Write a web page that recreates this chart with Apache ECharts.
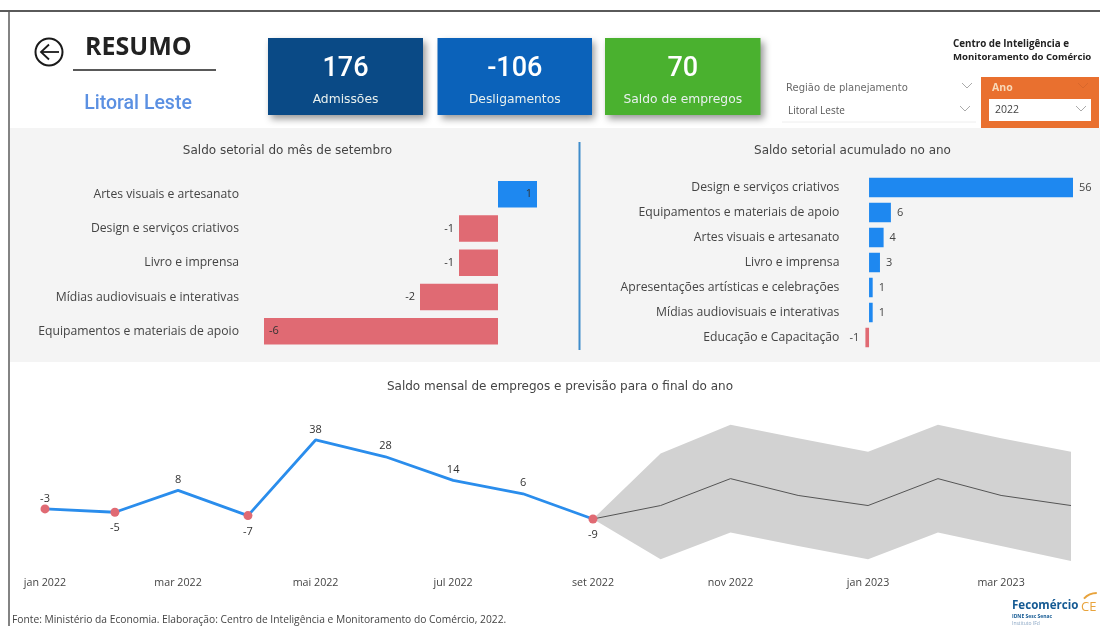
<!DOCTYPE html>
<html>
<head>
<meta charset="utf-8">
<style>html,body{margin:0;padding:0;background:#fff}#c{width:1100px;height:626px}</style>
<script src="https://cdn.jsdelivr.net/npm/echarts@6/dist/echarts.min.js"></script>
</head>
<body>
<div id="c"></div>
<script>
const monthCategories = ['Artes visuais e artesanato','Design e serviços criativos','Livro e imprensa','Mídias audiovisuais e interativas','Equipamentos e materiais de apoio'];
const monthValues = [1,-1,-1,-2,-6];
const monthLabelPositions = ['insideRight','left','left','left','insideLeft'];
const yearCategories = ['Design e serviços criativos','Equipamentos e materiais de apoio','Artes visuais e artesanato','Livro e imprensa','Apresentações artísticas e celebrações','Mídias audiovisuais e interativas','Educação e Capacitação'];
const yearValues = [56,6,4,3,1,1,-1];
const actualDates = ['2022-01-01','2022-02-01','2022-03-01','2022-04-01','2022-05-01','2022-06-01','2022-07-01','2022-08-01','2022-09-01'];
const actualValues = [-3,-5,8,-7,38,28,14,6,-9];
const actualLabelPositions = ['top','bottom','top','bottom','top','top','top','top','bottom'];
const actualLabelDistances = [0,6,5,6,5,5,5,5,6];
const forecastDates = ['2022-09-01','2022-10-01','2022-11-01','2022-12-01','2023-01-01','2023-02-01','2023-03-01','2023-04-01'];
const forecastValues = [-9,-1,15,5,-1,15,5,-1];
const forecastUpper = [-9,30,47,39,31,47,39,31];
const forecastLower = [-9,-33,-17,-25,-33,-17,-25,-34];
const tickDates = ['2022-01-01','2022-03-01','2022-05-01','2022-07-01','2022-09-01','2022-11-01','2023-01-01','2023-03-01'];
const monthNames = ['jan','fev','mar','abr','mai','jun','jul','ago','set','out','nov','dez'];
const kpis = [
  {value:'176', label:'Admissões', color:'#0a4a86', x:268, w:155},
  {value:'-106', label:'Desligamentos', color:'#0b62ba', x:437.5, w:154.5},
  {value:'70', label:'Saldo de empregos', color:'#4ab12f', x:605, w:155.5}
];

const UI = '"Open Sans", sans-serif';
const WIDE = '"DejaVu Sans", sans-serif';
const BLUE = '#1e88f0', RED = '#e06a73';
const T = d => new Date(d + 'T00:00:00Z').getTime();

function txt(x,y,text,font,fontSize,fill,align,fontWeight){
  return {type:'text',x,y,z:5,style:{text,fontFamily:font,fontSize,fontWeight:fontWeight||'normal',fill,align:align||'left',verticalAlign:'middle'}};
}
function rect(x,y,width,height,fill,extra){
  return {type:'rect',z:0,shape:{x,y,width,height},style:Object.assign({fill},extra||{})};
}
function chevron(x,y,color){
  return {type:'polyline',z:5,shape:{points:[[x-5,y-3],[x,y+2],[x+5,y-3]]},style:{fill:'none',stroke:color,lineWidth:1}};
}
const elements = [
  rect(10,128,1090,234,'#f4f4f4'),
  {type:'line',z:6,shape:{x1:0,y1:11,x2:1100,y2:11},style:{stroke:'#5a5a5a',lineWidth:2}},
  {type:'line',z:6,shape:{x1:9,y1:11,x2:9,y2:626},style:{stroke:'#5a5a5a',lineWidth:1.5}},
  {type:'line',z:6,shape:{x1:579.5,y1:142,x2:579.5,y2:350},style:{stroke:'#3f8ccb',lineWidth:2}},
  {type:'circle',z:5,shape:{cx:49,cy:52,r:13.5},style:{fill:'none',stroke:'#1a1a1a',lineWidth:2}},
  {type:'polyline',z:5,shape:{points:[[49,44.5],[41,52],[49,59.5]]},style:{fill:'none',stroke:'#1a1a1a',lineWidth:1.8}},
  {type:'line',z:5,shape:{x1:41,y1:52,x2:59,y2:52},style:{stroke:'#1a1a1a',lineWidth:1.8}},
  txt(85,48,'RESUMO',UI,25,'#222','left','bold'),
  {type:'line',z:5,shape:{x1:73,y1:70,x2:216,y2:70},style:{stroke:'#222',lineWidth:1.6}},
  txt(138,104,'Litoral Leste','Roboto, sans-serif',19.5,'#5b90e2','center','500'),
  txt(953,44,'Centro de Inteligência e',UI,9.8,'#222','left','bold'),
  txt(953,57,'Monitoramento do Comércio',UI,9.6,'#222','left','bold'),
  txt(786,88,'Região de planejamento',WIDE,10,'#6a6a6a'),
  chevron(967,86,'#aaa'),
  txt(788,111,'Litoral Leste',UI,10,'#555'),
  chevron(965,109,'#aaa'),
  {type:'line',z:5,shape:{x1:782,y1:122,x2:976,y2:122},style:{stroke:'#eeeeee',lineWidth:1}},
  rect(981,77,118,51,'#e9702f'),
  txt(992,88,'Ano',UI,10.5,'#f8d9b8','left','bold'),
  chevron(1083,86,'#d8672b'),
  rect(989,99,102,22,'#ffffff'),
  txt(995,110.5,'2022',UI,10.5,'#444'),
  chevron(1081,109,'#aaa'),
  txt(12,620.5,'Fonte: Ministério da Economia. Elaboração: Centro de Inteligência e Monitoramento do Comércio, 2022.',UI,10.25,'#444'),
  txt(1012,606,'Fecomércio',UI,11.6,'#155a93','left','bold'),
  txt(1081,607,'CE',UI,13,'#e8a33c','left'),
  {type:'arc',z:5,shape:{cx:1097,cy:611,r:18,startAngle:3.9,endAngle:4.7},style:{fill:'none',stroke:'#e8a33c',lineWidth:2}},
  txt(1012,617,'IDNE Sesc Senac',UI,5,'#155a93','left','bold'),
  txt(1012,624,'Instituto IFd',UI,5,'#8aa6c4')
];
kpis.forEach(k=>{
  elements.push(rect(k.x,38,k.w,77,k.color,{shadowBlur:7,shadowOffsetX:3,shadowOffsetY:4,shadowColor:'rgba(0,0,0,0.4)'}));
  elements.push(txt(k.x+k.w/2,69,k.value,'Roboto, sans-serif',27,'#fff','center','500'));
  elements.push(txt(k.x+k.w/2,100,k.label,WIDE,12.3,'#e8f0ee','center'));
});

const title = (text,x,y)=>({text,left:x,top:y,textAlign:'center',textStyle:{fontFamily:WIDE,fontSize:12,fontWeight:'normal',color:'#444'}});
const catAxis = (idx,data,margin)=>({type:'category',gridIndex:idx,data,inverse:true,axisLine:{show:false},axisTick:{show:false},
  axisLabel:{margin,fontFamily:UI,fontSize:12.2,color:'#444'}});

const chart = echarts.init(document.getElementById('c'),null,{renderer:'canvas'});
chart.setOption({
  animation:false,
  backgroundColor:'#ffffff',
  title:[title('Saldo setorial do mês de setembro',282.5,140),title('Saldo setorial acumulado no ano',847.5,140),title('Saldo mensal de empregos e previsão para o final do ano',555,376)],
  graphic:{elements},
  grid:[
    {left:264,width:273,top:177,height:171.5},
    {left:865.4,width:207.6,top:175,height:175},
    {left:45,width:1026,top:419.8,height:151.3}
  ],
  xAxis:[
    {type:'value',gridIndex:0,min:-6,max:1,show:false},
    {type:'value',gridIndex:1,min:-1,max:56,show:false},
    {type:'value',gridIndex:2,min:T('2022-01-01'),max:T('2023-04-01'),scale:true,splitLine:{show:false},axisLine:{show:false,onZero:false},axisTick:{show:false},
     axisLabel:{customValues:tickDates.map(T),margin:6,fontFamily:UI,fontSize:10.7,color:'#444',
       formatter:v=>{const d=new Date(v);return monthNames[d.getUTCMonth()]+' '+d.getUTCFullYear();}}}
  ],
  yAxis:[
    catAxis(0,monthCategories,25),
    catAxis(1,yearCategories,26),
    {type:'value',gridIndex:2,min:-40,max:50,show:false}
  ],
  series:[
    {type:'bar',name:'Saldo do mês',xAxisIndex:0,yAxisIndex:0,barWidth:26.5,
     data:monthValues.map((v,i)=>({value:v,itemStyle:{color:v<0?RED:BLUE},label:{position:monthLabelPositions[i]}})),
     label:{show:true,fontFamily:UI,fontSize:11,color:'#333'}},
    {type:'bar',name:'Saldo acumulado',xAxisIndex:1,yAxisIndex:1,barWidth:19.5,
     data:yearValues.map(v=>({value:v,itemStyle:{color:v<0?RED:BLUE},label:{position:v<0?'left':'right'}})),
     label:{show:true,distance:6,fontFamily:UI,fontSize:11,color:'#444'}},
    {type:'custom',name:'Intervalo',xAxisIndex:2,yAxisIndex:2,z:1,silent:true,
     data:forecastDates.map((d,i)=>[T(d),forecastLower[i],forecastUpper[i]]),
     encode:{x:0,y:[1,2]},
     renderItem:(p,api)=>{
       if(p.dataIndex!==0) return null;
       const up=forecastDates.map((d,i)=>api.coord([T(d),forecastUpper[i]]));
       const lo=forecastDates.map((d,i)=>api.coord([T(d),forecastLower[i]])).reverse();
       return {type:'polygon',shape:{points:up.concat(lo)},style:{fill:'#d2d2d2'}};
     }},
    {type:'line',name:'Previsão',xAxisIndex:2,yAxisIndex:2,z:2,symbol:'none',
     data:forecastDates.map((d,i)=>[T(d),forecastValues[i]]),lineStyle:{color:'#555',width:1}},
    {type:'line',name:'Saldo mensal',xAxisIndex:2,yAxisIndex:2,z:3,symbol:'circle',symbolSize:9,
     data:actualDates.map((d,i)=>({value:[T(d),actualValues[i]],
        symbolSize:actualValues[i]<0?9:0,itemStyle:{color:actualValues[i]<0?RED:BLUE},
        label:{position:actualLabelPositions[i],distance:actualLabelDistances[i]}})),
     lineStyle:{color:'#2a8dec',width:2.8},
     label:{show:true,fontFamily:UI,fontSize:11,color:'#333',formatter:p=>p.value[1]}}
  ]
});
</script>
</body>
</html>
